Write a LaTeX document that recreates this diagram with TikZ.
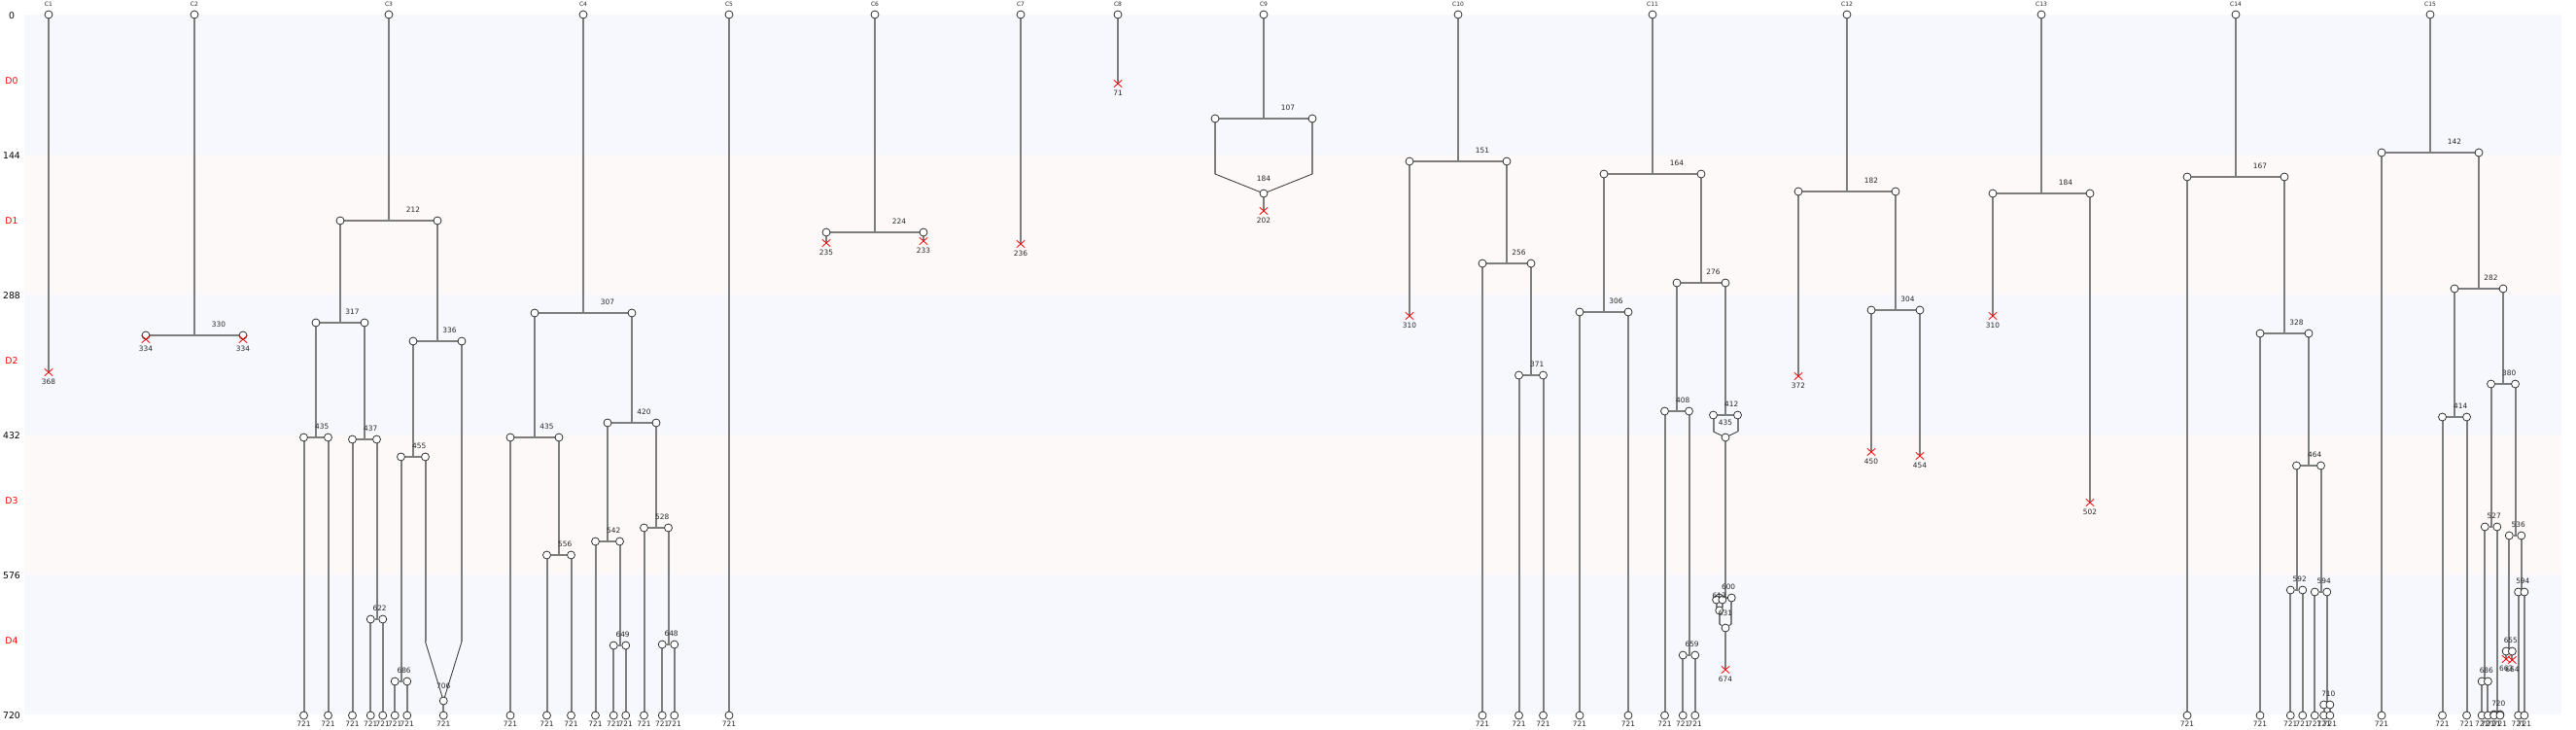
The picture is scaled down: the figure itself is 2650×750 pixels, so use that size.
\documentclass[tikz,border=0pt]{standalone}
\usepackage{fontspec}
\setmainfont{DejaVu Sans}
\usetikzlibrary{shapes.misc}
\definecolor{edgegray}{RGB}{125,125,125}
\definecolor{bandblue}{RGB}{246,248,253}
\definecolor{bandpink}{RGB}{253,249,249}
\pgfdeclarelayer{bg}\pgfdeclarelayer{edges}
\pgfsetlayers{bg,edges,main}
\tikzset{
 nd/.style={circle,draw=black!85,fill=white,line width=0.75pt,minimum size=8pt,inner sep=0pt},
 edge/.style={draw=edgegray,line width=2pt},
 mline/.style={draw=black!75,line width=0.9pt},
 dx/.style={cross out,draw=red,line width=0.8pt,minimum width=7.5pt,minimum height=6.5pt,inner sep=0pt},
 lab/.style={font=\fontsize{7.4}{8}\selectfont,text=black!85,inner sep=0pt},
 clab/.style={font=\fontsize{6}{7}\selectfont,text=black!85,inner sep=0pt},
 axl/.style={font=\fontsize{9.3}{10}\selectfont,inner sep=0pt},
}
\newcommand\TOPN[3]{\node[nd] (#1) at (#2,0) {}; \node[clab] (#1t) at (#2,-11) {#3};}
\newcommand\SPL[5]{%
 \coordinate (#1s) at (#2,#4);
 \node[nd] (#1L) at ({#2-#3},#4) {};
 \node[nd] (#1R) at ({#2+#3},#4) {};
 \node[lab] (#1l) at ({#2+#3/2},{#4-11.5}) {#5};
 \begin{pgfonlayer}{edges}\draw[edge] (#1) -- (#1s); \draw[edge] (#1L) -- (#1R);\end{pgfonlayer}}
\newcommand\LEAF[2]{%
 \node[nd] (#1z) at (#2,721) {};
 \node[lab] (#1zl) at (#2,729.5) {721};
 \begin{pgfonlayer}{edges}\draw[edge] (#1) -- (#1z);\end{pgfonlayer}}
\newcommand\DEATH[3]{%
 \node[dx] (#1x) at (#2,#3) {};
 \node[lab] (#1xl) at (#2,{#3+9.5}) {#3};
 \begin{pgfonlayer}{edges}\draw[edge] (#1) -- (#1x.center);\end{pgfonlayer}}
\newcommand\MERGE[9]{%
 \node[nd] (#6) at (#7,#8) {};
 \coordinate (#6a) at (#2,#5);
 \coordinate (#6b) at (#4,#5);
 \node[lab] (#6l) at (#7,{#8-15}) {#9};
 \begin{pgfonlayer}{edges}
 \draw[edge] (#1) -- (#6a); \draw[edge] (#3) -- (#6b);
 \draw[mline] (#6a) -- (#6); \draw[mline] (#6b) -- (#6);
 \end{pgfonlayer}}
\begin{document}
\begin{tikzpicture}[x=1pt,y=-1pt]
\useasboundingbox (0,0) rectangle (2650,750);
\begin{scope}[yshift=-15pt]
\begin{pgfonlayer}{bg}
\fill[bandblue] (25,0) rectangle (2635,144);
\fill[bandpink] (25,144) rectangle (2635,288);
\fill[bandblue] (25,288) rectangle (2635,432);
\fill[bandpink] (25,432) rectangle (2635,576);
\fill[bandblue] (25,576) rectangle (2635,720);
\end{pgfonlayer}
% axis labels
\node[axl] (a0) at (12,1) {0};
\node[axl,text=red] (d0) at (12,68) {D0};
\node[axl] (a1) at (12,145) {144};
\node[axl,text=red] (d1) at (12,212) {D1};
\node[axl] (a2) at (12,289) {288};
\node[axl,text=red] (d2) at (12,356) {D2};
\node[axl] (a3) at (12,433) {432};
\node[axl,text=red] (d3) at (12,500) {D3};
\node[axl] (a4) at (12,577) {576};
\node[axl,text=red] (d4) at (12,644) {D4};
\node[axl] (a5) at (12,721) {720};
% top nodes
\TOPN{c1}{50}{C1}
\TOPN{c2}{200}{C2}
\TOPN{c3}{400}{C3}
\TOPN{c4}{600}{C4}
\TOPN{c5}{750}{C5}
\TOPN{c6}{900}{C6}
\TOPN{c7}{1050}{C7}
\TOPN{c8}{1150}{C8}
\TOPN{c9}{1300}{C9}
\TOPN{c10}{1500}{C10}
\TOPN{c11}{1700}{C11}
\TOPN{c12}{1900}{C12}
\TOPN{c13}{2100}{C13}
\TOPN{c14}{2300}{C14}
\TOPN{c15}{2500}{C15}
% C1
\DEATH{c1}{50}{368}
% C2
\SPL{c2}{200}{50}{330}{330}
\DEATH{c2L}{150}{334}
\DEATH{c2R}{250}{334}
% C3
\SPL{c3}{400}{50}{212}{212}
\SPL{c3L}{350}{25}{317}{317}
\SPL{c3LL}{325}{12.5}{435}{435}
\LEAF{c3LLL}{312.5}
\LEAF{c3LLR}{337.5}
\SPL{c3LR}{375}{12.5}{437}{437}
\LEAF{c3LRL}{362.5}
\SPL{c3LRR}{387.5}{6.25}{622}{622}
\LEAF{c3LRRL}{381.25}
\LEAF{c3LRRR}{393.75}
\SPL{c3R}{450}{25}{336}{336}
\SPL{c3RL}{425}{12.5}{455}{455}
\SPL{c3RLL}{412.5}{6.25}{686}{686}
\LEAF{c3RLLL}{406.25}
\LEAF{c3RLLR}{418.75}
\MERGE{c3RLR}{437.5}{c3RR}{475}{645}{c3M}{456.25}{706}{706}
\LEAF{c3M}{456.25}
% C4
\SPL{c4}{600}{50}{307}{307}
\SPL{c4L}{550}{25}{435}{435}
\LEAF{c4LL}{525}
\SPL{c4LR}{575}{12.5}{556}{556}
\LEAF{c4LRL}{562.5}
\LEAF{c4LRR}{587.5}
\SPL{c4R}{650}{25}{420}{420}
\SPL{c4RL}{625}{12.5}{542}{542}
\LEAF{c4RLL}{612.5}
\SPL{c4RLR}{637.5}{6.25}{649}{649}
\LEAF{c4RLRL}{631.25}
\LEAF{c4RLRR}{643.75}
\SPL{c4RR}{675}{12.5}{528}{528}
\LEAF{c4RRL}{662.5}
\SPL{c4RRR}{687.5}{6.25}{648}{648}
\LEAF{c4RRRL}{681.25}
\LEAF{c4RRRR}{693.75}
% C5
\LEAF{c5}{750}
% C6
\SPL{c6}{900}{50}{224}{224}
\DEATH{c6L}{850}{235}
\DEATH{c6R}{950}{233}
% C7, C8
\DEATH{c7}{1050}{236}
\DEATH{c8}{1150}{71}
% C9
\SPL{c9}{1300}{50}{107}{107}
\MERGE{c9L}{1250}{c9R}{1350}{164}{c9M}{1300}{184}{184}
\DEATH{c9M}{1300}{202}
% C10
\SPL{c10}{1500}{50}{151}{151}
\DEATH{c10L}{1450}{310}
\SPL{c10R}{1550}{25}{256}{256}
\LEAF{c10RL}{1525}
\SPL{c10RR}{1575}{12.5}{371}{371}
\LEAF{c10RRL}{1562.5}
\LEAF{c10RRR}{1587.5}
% C11
\SPL{c11}{1700}{50}{164}{164}
\SPL{c11L}{1650}{25}{306}{306}
\LEAF{c11LL}{1625}
\LEAF{c11LR}{1675}
\SPL{c11R}{1750}{25}{276}{276}
\SPL{c11RL}{1725}{12.5}{408}{408}
\LEAF{c11RLL}{1712.5}
\SPL{c11RLR}{1737.5}{6.25}{659}{659}
\LEAF{c11RLRL}{1731.25}
\LEAF{c11RLRR}{1743.75}
\SPL{c11RR}{1775}{12.5}{412}{412}
\MERGE{c11RRL}{1762.5}{c11RRR}{1787.5}{429}{c11M}{1775}{435}{435}
\SPL{c11M}{1775}{6.25}{600}{600}
\SPL{c11ML}{1768.75}{3.125}{602}{}
\MERGE{c11MLL}{1765.625}{c11MLR}{1771.875}{610}{c11N}{1768.75}{613}{613}
\MERGE{c11N}{1768.75}{c11MR}{1781.25}{627}{c11O}{1775}{631}{631}
\DEATH{c11O}{1775}{674}
% C12
\SPL{c12}{1900}{50}{182}{182}
\DEATH{c12L}{1850}{372}
\SPL{c12R}{1950}{25}{304}{304}
\DEATH{c12RL}{1925}{450}
\DEATH{c12RR}{1975}{454}
% C13
\SPL{c13}{2100}{50}{184}{184}
\DEATH{c13L}{2050}{310}
\DEATH{c13R}{2150}{502}
% C14
\SPL{c14}{2300}{50}{167}{167}
\LEAF{c14L}{2250}
\SPL{c14R}{2350}{25}{328}{328}
\LEAF{c14RL}{2325}
\SPL{c14RR}{2375}{12.5}{464}{464}
\SPL{c14RRL}{2362.5}{6.25}{592}{592}
\LEAF{c14RRLL}{2356.25}
\LEAF{c14RRLR}{2368.75}
\SPL{c14RRR}{2387.5}{6.25}{594}{594}
\LEAF{c14RRRL}{2381.25}
\SPL{c14RRRR}{2393.75}{3.125}{710}{710}
\LEAF{c14RRRRL}{2390.625}
\LEAF{c14RRRRR}{2396.875}
% C15
\SPL{c15}{2500}{50}{142}{142}
\LEAF{c15L}{2450}
\SPL{c15R}{2550}{25}{282}{282}
\SPL{c15RL}{2525}{12.5}{414}{414}
\LEAF{c15RLL}{2512.5}
\LEAF{c15RLR}{2537.5}
\SPL{c15RR}{2575}{12.5}{380}{380}
\SPL{c15RRL}{2562.5}{6.25}{527}{527}
\SPL{c15RRLL}{2556.25}{3.125}{686}{686}
\LEAF{c15RRLLL}{2553.125}
\LEAF{c15RRLLR}{2559.375}
\SPL{c15RRLR}{2568.75}{3.125}{720}{720}
\LEAF{c15RRLRL}{2565.625}
\LEAF{c15RRLRR}{2571.875}
\SPL{c15RRR}{2587.5}{6.25}{536}{536}
\SPL{c15RRRL}{2581.25}{3.125}{655}{655}
\DEATH{c15RRRLL}{2578.125}{663}
\DEATH{c15RRRLR}{2584.375}{664}
\SPL{c15RRRR}{2593.75}{3.125}{594}{594}
\LEAF{c15RRRRL}{2590.625}
\LEAF{c15RRRRR}{2596.875}
\end{scope}
\end{tikzpicture}
\end{document}
